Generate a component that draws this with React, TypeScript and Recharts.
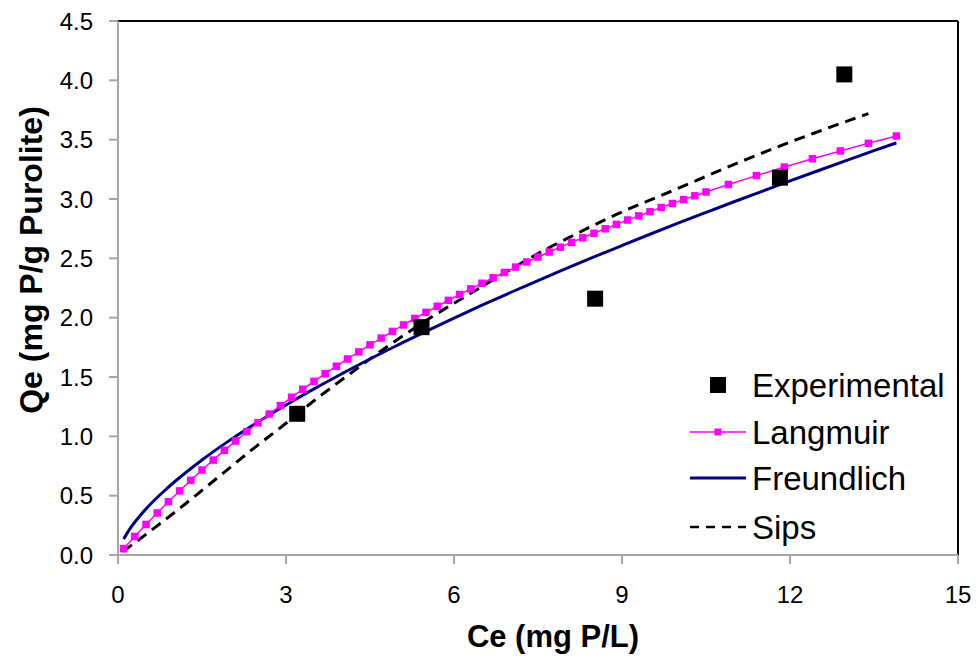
import React from 'react';
import { ComposedChart, Line, Scatter, XAxis, YAxis, ReferenceLine, Label } from 'recharts';

const FONT = "Arial, 'Liberation Sans', sans-serif";

// Experimental data
const expCe = [3.2, 5.42, 8.52, 11.82, 12.97];
const expQe = [1.19, 1.92, 2.16, 3.18, 4.05];

// Langmuir model
const langCe = [0.1, 0.3, 0.5, 0.7, 0.9, 1.1, 1.3, 1.5, 1.7, 1.9, 2.1, 2.3, 2.5, 2.7, 2.9, 3.1, 3.3, 3.5, 3.7, 3.9,
  4.1, 4.3, 4.5, 4.7, 4.9, 5.1, 5.3, 5.5, 5.7, 5.9, 6.1, 6.3, 6.5, 6.7, 6.9, 7.1, 7.3, 7.5, 7.7, 7.9,
  8.1, 8.3, 8.5, 8.7, 8.9, 9.1, 9.3, 9.5, 9.7, 9.9, 10.1, 10.3, 10.5, 10.9, 11.4, 11.9, 12.4, 12.9, 13.4, 13.9];
const langQe = [0.053, 0.156, 0.257, 0.354, 0.449, 0.54, 0.629, 0.716, 0.8, 0.882, 0.961, 1.039, 1.114, 1.188, 1.259, 1.329, 1.397, 1.463, 1.528, 1.591,
  1.652, 1.712, 1.771, 1.828, 1.884, 1.939, 1.993, 2.045, 2.096, 2.146, 2.195, 2.243, 2.29, 2.336, 2.381, 2.426, 2.469, 2.511, 2.553, 2.594,
  2.634, 2.673, 2.711, 2.749, 2.786, 2.823, 2.858, 2.893, 2.928, 2.962, 2.995, 3.027, 3.059, 3.122, 3.197, 3.269, 3.339, 3.405, 3.469, 3.531];

// Freundlich model
const freCe = [0.1, 0.2, 0.4, 0.6, 0.8, 1.0, 1.5, 2.0, 2.5, 3.0, 3.5, 4.0, 4.5, 5.0, 5.5, 6.0, 6.5, 7.0, 7.5, 8.0,
  8.5, 9.0, 9.5, 10.0, 10.5, 11.0, 11.5, 12.0, 12.5, 13.0, 13.5, 13.9];
const freQe = [0.134, 0.212, 0.335, 0.438, 0.529, 0.613, 0.801, 0.968, 1.121, 1.264, 1.4, 1.528, 1.652, 1.77, 1.885, 1.997, 2.105, 2.21, 2.313, 2.413,
  2.512, 2.608, 2.703, 2.796, 2.887, 2.977, 3.065, 3.152, 3.238, 3.323, 3.407, 3.473];

// Sips model
const sipsCe = [0.09, 0.6, 1.2, 1.8, 2.4, 3.0, 3.5, 4.15, 4.85, 5.65, 6.35, 6.95, 7.5, 8.2, 8.9, 9.7, 10.2, 11.2, 12.4, 13.4];
const sipsQe = [0.03, 0.21, 0.43, 0.66, 0.89, 1.11, 1.3, 1.53, 1.77, 2.02, 2.22, 2.39, 2.54, 2.71, 2.87, 3.03, 3.13, 3.33, 3.55, 3.72];

const xTicks = [0, 3, 6, 9, 12, 15];
const yTicks = [0, 0.5, 1, 1.5, 2, 2.5, 3, 3.5, 4, 4.5];

const legendItems = ['Experimental', 'Langmuir', 'Freundlich', 'Sips'];

const zip = (xs: number[], ys: number[]) => xs.map((x, i) => ({ x, y: ys[i] }));
const expData = zip(expCe, expQe);
const langData = zip(langCe, langQe);
const freData = zip(freCe, freQe);
const sipsData = zip(sipsCe, sipsQe);

const SquareShape = (props: any) => {
  const { cx, cy } = props;
  if (cx == null || cy == null) return null;
  return <rect x={cx - 8} y={cy - 8} width={16} height={16} fill="#000" />;
};

const PinkDot = (props: any) => {
  const { cx, cy, index } = props;
  if (cx == null || cy == null) return null;
  return <rect key={index} x={cx - 3.75} y={cy - 3.75} width={7.5} height={7.5} fill="#FF00FF" />;
};

const YTitle = (props: any) => {
  const vb = props.viewBox || { x: 0, y: 21, width: 118, height: 534 };
  const cx = vb.x + 31;
  const cy = vb.y + vb.height / 2 - 28;
  return (
    <text x={cx} y={cy} transform={`rotate(-90 ${cx} ${cy})`} textAnchor="middle" dominantBaseline="central"
      fontFamily={FONT} fontWeight="bold" fontSize={32} fill="#000">
      Qe (mg P/g Purolite)
    </text>
  );
};

const LegendBox = () => {
  const rowY = [385, 432, 478, 527];
  return (
    <svg width={979} height={664} style={{ position: 'absolute', left: 0, top: 0, pointerEvents: 'none' }}>
      <rect x={710} y={rowY[0] - 8} width={16} height={16} fill="#000" />
      <line x1={690} x2={746} y1={rowY[1]} y2={rowY[1]} stroke="#FF00FF" strokeWidth={1.5} />
      <rect x={714.5} y={rowY[1] - 3.5} width={7} height={7} fill="#FF00FF" />
      <line x1={690} x2={746} y1={rowY[2]} y2={rowY[2]} stroke="#000080" strokeWidth={3} />
      <line x1={690} x2={746} y1={rowY[3]} y2={rowY[3]} stroke="#000" strokeWidth={2.5} strokeDasharray="9 7" />
      {legendItems.map((t, i) => (
        <text key={t} x={752} y={rowY[i]} dominantBaseline="central" fontFamily={FONT} fontSize={33} fill="#000">{t}</text>
      ))}
    </svg>
  );
};

export default function App() {
  return (
    <div style={{ position: 'absolute', left: 0, top: 0, width: 979, height: 664, background: '#fff' }}>
      <ComposedChart width={979} height={664} margin={{ top: 21, right: 21, bottom: 0, left: 0 }}>
        <XAxis type="number" dataKey="x" domain={[0, 15]} ticks={xTicks} allowDataOverflow
          height={109} tickSize={9} tickMargin={22}
          axisLine={{ stroke: '#a6a6a6', strokeWidth: 2 }} tickLine={{ stroke: '#a6a6a6', strokeWidth: 2 }}
          tick={{ fill: '#000', fontSize: 24, fontFamily: FONT }}>
          <Label value="Ce (mg P/L)" position="insideBottom" offset={17} dx={15}
            style={{ fontFamily: FONT, fontWeight: 'bold', fontSize: 31, fill: '#000' }} />
        </XAxis>
        <YAxis type="number" domain={[0, 4.5]} ticks={yTicks} allowDataOverflow
          width={118} tickSize={9} tickMargin={16}
          tickFormatter={(v: number) => v.toFixed(1)}
          axisLine={{ stroke: '#a6a6a6', strokeWidth: 2 }} tickLine={{ stroke: '#a6a6a6', strokeWidth: 2 }}
          tick={{ fill: '#000', fontSize: 24, fontFamily: FONT }}>
          <Label content={<YTitle />} position="center" />
        </YAxis>
        <ReferenceLine y={4.5} stroke="#000" strokeWidth={2} />
        <ReferenceLine x={15} stroke="#000" strokeWidth={2} />
        <Line data={sipsData} dataKey="y" type="monotone" stroke="#000" strokeWidth={3} strokeDasharray="11 7"
          dot={false} activeDot={false} isAnimationActive={false} />
        <Line data={freData} dataKey="y" type="monotone" stroke="#000080" strokeWidth={3}
          dot={false} activeDot={false} isAnimationActive={false} />
        <Line data={langData} dataKey="y" type="linear" stroke="#FF00FF" strokeWidth={1.5}
          dot={<PinkDot />} activeDot={false} isAnimationActive={false} />
        <Scatter data={expData} dataKey="y" shape={<SquareShape />} isAnimationActive={false} />
      </ComposedChart>
      <LegendBox />
    </div>
  );
}
